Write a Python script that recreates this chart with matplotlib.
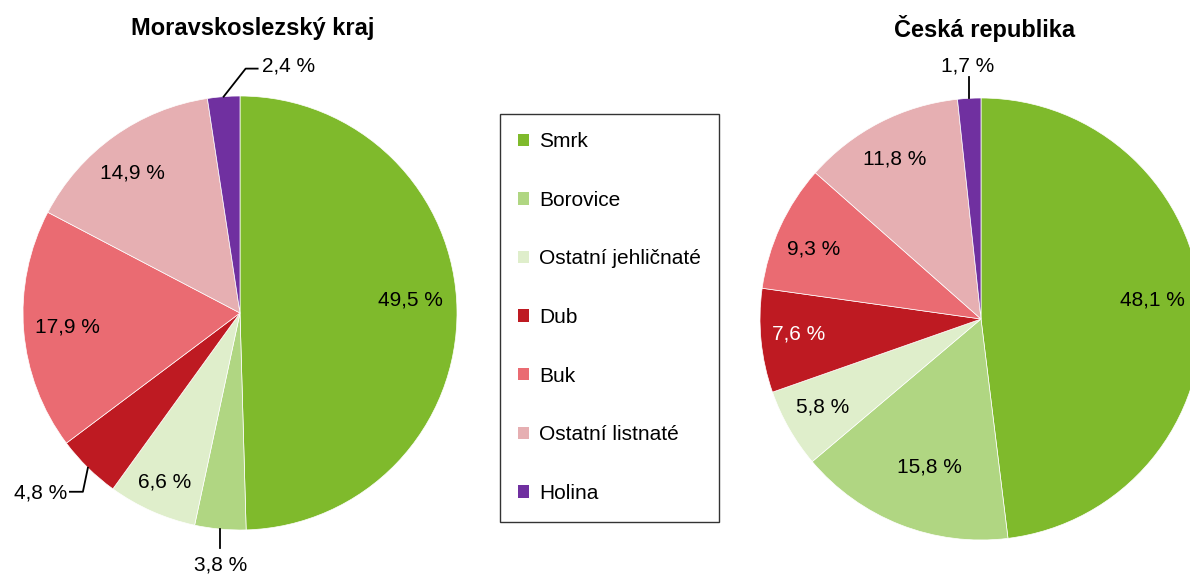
import numpy as np
import matplotlib.pyplot as plt
from matplotlib.patches import Patch

plt.rcParams['font.family'] = ['Liberation Sans', 'DejaVu Sans']

druhy = ['Smrk', 'Borovice', 'Ostatní jehličnaté', 'Dub', 'Buk',
         'Ostatní listnaté', 'Holina']
barvy = ['#7fba2c', '#b0d682', '#dfeecb', '#be1a22', '#ea6b72',
         '#e6afb2', '#7030a0']

msk = [49.5, 3.8, 6.6, 4.8, 17.9, 14.9, 2.4]
cr = [48.1, 15.8, 5.8, 7.6, 9.3, 11.8, 1.7]

# label placement: ('in', distance, angle shift) or
# ('out', leader points offset from edge, text offset, ha)
lab_msk = [('in', 0.786, 3.6),
           ('out', [(0, -19)], (0, -36), 'center'),
           ('in', 0.85, 0),
           ('out', [(-5, -24), (-18, -24)], (-21, -25), 'right'),
           ('in', 0.80, 0),
           ('in', 0.815, 2),
           ('out', [(22, 28), (34, 28)], (38, 31), 'left')]
lab_cr = [('in', 0.78, 2.8),
          ('in', 0.71, 2.4),
          ('in', 0.82, -0.8),
          ('in', 0.83, -1),
          ('in', 0.82, 2.1),
          ('in', 0.82, 1),
          ('out', [(0, 21)], (-2, 32), 'center')]

fig = plt.figure(figsize=(11.9, 5.74), dpi=100)
ax = fig.add_axes([0, 0, 1, 1])


def kolac(vals, center, r, labs, title, tx):
    wedges, _ = ax.pie(vals, colors=barvy, startangle=90, counterclock=False,
                       center=center, radius=r,
                       wedgeprops=dict(edgecolor='white', linewidth=0.5))
    cx, cy = center
    for i, (w, v, lab) in enumerate(zip(wedges, vals, labs)):
        txt = f'{v:.1f} %'.replace('.', ',')
        mid = np.deg2rad((w.theta1 + w.theta2) / 2)
        col = 'white' if i == 3 and txt == '7,6 %' else 'black'
        if lab[0] == 'in':
            a = mid + np.deg2rad(lab[2])
            ax.text(cx + lab[1] * r * np.cos(a), cy + lab[1] * r * np.sin(a),
                    txt, ha='center', va='center', fontsize=15, color=col)
        else:
            ex, ey = cx + r * np.cos(mid), cy + r * np.sin(mid)
            xs = [ex] + [ex + p[0] for p in lab[1]]
            ys = [ey] + [ey + p[1] for p in lab[1]]
            ax.plot(xs, ys, color='black', lw=1.3)
            ax.text(ex + lab[2][0], ey + lab[2][1], txt, ha=lab[3],
                    va='center', fontsize=15)
    ax.text(tx, 545, title, ha='center', va='center', fontsize=17,
            fontweight='bold')


kolac(msk, (240, 261), 217, lab_msk, 'Moravskoslezský kraj', 253)
kolac(cr, (981, 255), 221, lab_cr, 'Česká republika', 985)

handles = [Patch(facecolor=c, edgecolor='none') for c in barvy]
leg = ax.legend(handles, druhy, loc='center', bbox_to_anchor=(609.5, 256.5),
                bbox_transform=ax.transData, fontsize=15, frameon=True,
                fancybox=False, edgecolor='black', borderpad=0.9,
                labelspacing=1.9, handlelength=0.53, handleheight=0.53,
                handletextpad=0.45)
leg.get_frame().set_linewidth(1.0)

ax.set_xlim(0, 1190)
ax.set_ylim(0, 574)
ax.set_aspect('equal')
ax.axis('off')

fig.savefig('out.png', dpi=100)
